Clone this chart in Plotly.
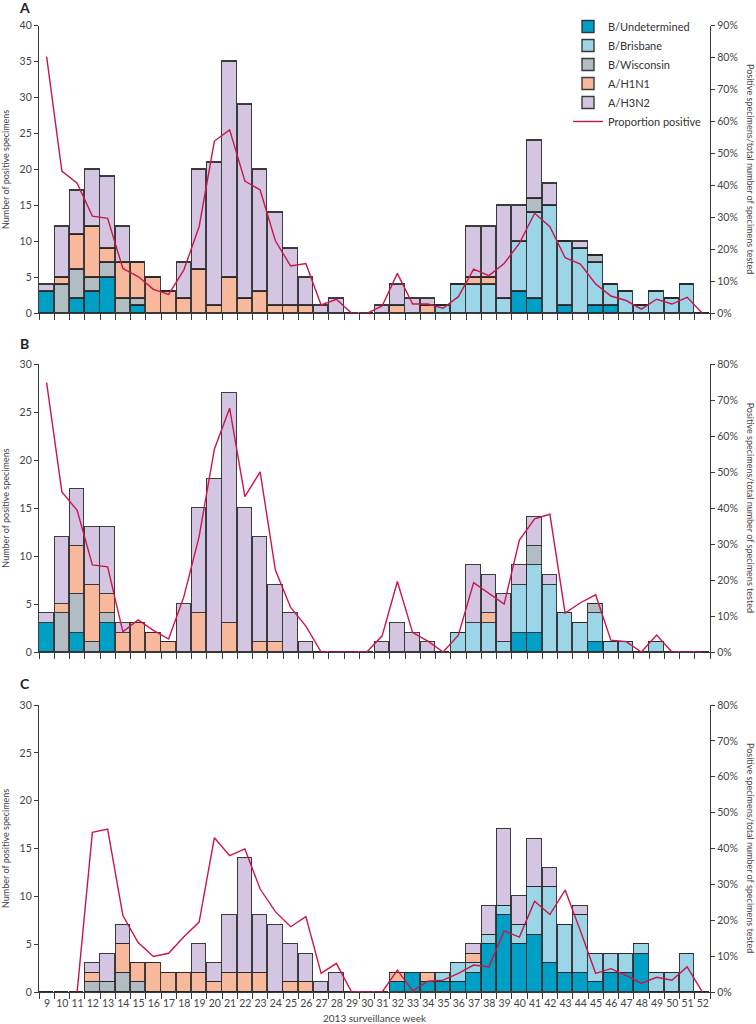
import plotly.graph_objects as go

# ---------------- data ----------------
weeks = list(range(9, 53))
series_names = ["B/Undetermined", "B/Brisbane", "B/Wisconsin", "A/H1N1", "A/H3N2"]

def wk(d):
    """build a 44-length list (weeks 9..52) from {week: value}"""
    return [d.get(w, 0) for w in weeks]

# Panel A
A_undet = wk({9: 3, 11: 2, 12: 3, 13: 5, 15: 1, 40: 3, 41: 2, 43: 1, 45: 1, 46: 1})
A_bris = wk({35: 1, 36: 4, 37: 4, 38: 4, 39: 2, 40: 7, 41: 12, 42: 15, 43: 9, 44: 9, 45: 6,
             46: 3, 47: 3, 48: 1, 49: 3, 50: 2, 51: 4})
A_wisc = wk({10: 4, 11: 4, 12: 2, 13: 2, 14: 2, 15: 1, 41: 2, 45: 1})
A_h1n1 = wk({10: 1, 11: 5, 12: 7, 13: 2, 14: 5, 15: 5, 16: 5, 17: 3, 18: 2, 19: 6, 20: 1, 21: 5,
             22: 2, 23: 3, 24: 1, 25: 1, 26: 1, 32: 1, 34: 1, 37: 1, 38: 1})
A_h3n2 = wk({9: 1, 10: 7, 11: 6, 12: 8, 13: 10, 14: 5, 18: 5, 19: 14, 20: 20, 21: 30, 22: 27,
             23: 17, 24: 13, 25: 8, 26: 4, 27: 1, 28: 2, 31: 1, 32: 3, 33: 2, 34: 1, 37: 7,
             38: 7, 39: 13, 40: 5, 41: 8, 42: 3, 44: 1})
A_prop = [80.3, 44.5, 40.7, 30.4, 29.7, 14.0, 11.5, 7.5, 5.9, 13.6,
          27.1, 53.9, 57.4, 41.4, 38.6, 22.7, 14.8, 15.6, 2.6, 4.4,
          0, 0, 2.3, 12.5, 2.9, 2.9, 1.6, 5.2, 13.8, 11.8,
          15.6, 21.9, 31.3, 27.1, 17.4, 15.4, 9.2, 5.4, 4.0, 1.3,
          4.4, 2.9, 5.0, 0]

# Panel B
B_undet = wk({9: 3, 11: 2, 13: 3, 40: 2, 41: 2, 45: 1})
B_bris = wk({36: 2, 37: 3, 38: 3, 39: 1, 40: 5, 41: 7, 42: 7, 43: 4, 44: 3, 45: 3, 46: 1,
             47: 1, 49: 1})
B_wisc = wk({10: 4, 11: 4, 12: 1, 13: 1, 41: 2, 45: 1})
B_h1n1 = wk({10: 1, 11: 5, 12: 6, 13: 2, 14: 2, 15: 3, 16: 2, 17: 1, 19: 4, 21: 3, 23: 1,
             24: 1, 38: 1})
B_h3n2 = wk({9: 1, 10: 7, 11: 6, 12: 6, 13: 7, 14: 1, 18: 5, 19: 11, 20: 18, 21: 24, 22: 15,
             23: 11, 24: 6, 25: 4, 26: 1, 31: 1, 32: 3, 33: 2, 34: 1, 37: 6, 38: 4, 39: 5,
             40: 2, 41: 3, 42: 1})
B_prop = [74.9, 44.5, 39.4, 24.2, 23.7, 5.6, 8.9, 6.0, 3.6, 15.4,
          32.1, 56.4, 67.8, 43.2, 50.1, 22.8, 12.4, 7.2, 0, 0,
          0, 0, 4.5, 19.6, 5.4, 3.0, 0, 4.7, 19.3, 16.3,
          13.3, 31.1, 37.0, 38.3, 10.8, 13.7, 15.9, 3.3, 2.9, 0,
          4.7, 0, 0, 0]

# Panel C
C_undet = wk({32: 1, 33: 2, 34: 1, 35: 1, 36: 1, 37: 2, 38: 5, 39: 8, 40: 5, 41: 6, 42: 3,
              43: 2, 44: 2, 45: 1, 46: 2, 47: 2, 48: 4})
C_bris = wk({35: 1, 36: 2, 37: 1, 38: 1, 39: 1, 40: 2, 41: 5, 42: 8, 43: 5, 44: 6, 45: 3,
             46: 2, 47: 2, 48: 1, 49: 2, 50: 2, 51: 4})
C_wisc = wk({12: 1, 13: 1, 14: 2, 15: 1})
C_h1n1 = wk({12: 1, 14: 3, 15: 2, 16: 3, 17: 2, 18: 2, 19: 2, 20: 1, 21: 2, 22: 2, 23: 2,
             25: 1, 26: 1, 32: 1, 34: 1, 37: 1})
C_h3n2 = wk({12: 1, 13: 3, 14: 2, 19: 3, 20: 2, 21: 6, 22: 12, 23: 6, 24: 7, 25: 4, 26: 3,
             27: 1, 28: 2, 37: 1, 38: 3, 39: 8, 40: 3, 41: 5, 42: 2, 44: 1})
C_prop = [None, None, 0, 44.5, 45.4, 21.3, 13.8, 9.9, 10.8, 15.4,
          19.5, 43.0, 38.0, 39.9, 28.7, 22.4, 18.2, 21.0, 5.2, 8.0,
          0, 0, 0, 6.1, 0.3, 3.0, 3.3, 5.2, 7.5, 7.0,
          17.0, 15.3, 25.3, 21.6, 28.4, 17.1, 5.2, 6.5, 4.6, 2.4,
          4.1, 3.3, 7.0, 0]

panels = [
    dict(letter="A", bars=[A_undet, A_bris, A_wisc, A_h1n1, A_h3n2], prop=A_prop,
         ymax=40, pmax=90, top=25.7, bottom=313.3, letter_y=7),
    dict(letter="B", bars=[B_undet, B_bris, B_wisc, B_h1n1, B_h3n2], prop=B_prop,
         ymax=30, pmax=80, top=364.3, bottom=652.0, letter_y=343.5),
    dict(letter="C", bars=[C_undet, C_bris, C_wisc, C_h1n1, C_h3n2], prop=C_prop,
         ymax=30, pmax=80, top=705.0, bottom=992.0, letter_y=683.5),
]

# ---------------- style ----------------
W, H = 756, 1024
ML, MR = 39, 46
PW = W - ML - MR
colors = ["#00A0C6", "#9DD5E8", "#B1BCC3", "#F8B89C", "#D4C6E2"]
line_color = "#C8174A"
edge = "rgba(40,40,40,0.9)"
axis_color = "#3a3a3a"
txt_color = "#444444"
FONT = "Lato, 'Open Sans', sans-serif"

fig = go.Figure()
layout = {}
annotations = []

edges = [w - 0.5 for w in weeks] + [weeks[-1] + 0.5]
edge_text = [str(w) for w in weeks] + [""]

for i, p in enumerate(panels):
    xa = "x" if i == 0 else f"x{i + 1}"
    yl = "y" if i == 0 else f"y{2 * i + 1}"
    yr = f"y{2 * i + 2}"
    for name, vals, col in zip(series_names, p["bars"], colors):
        fig.add_trace(go.Bar(
            x=weeks, y=vals, name=name, xaxis=xa, yaxis=yl, width=0.94,
            marker=dict(color=col, line=dict(color=edge, width=1.4)),
            showlegend=(i == 0), legendgroup=name, hoverinfo="skip"))
    fig.add_trace(go.Scatter(
        x=weeks, y=p["prop"], name="Proportion positive", xaxis=xa, yaxis=yr,
        mode="lines", line=dict(color=line_color, width=1.4),
        showlegend=(i == 0), legendgroup="prop", connectgaps=False, hoverinfo="skip"))

    dom = [1 - p["bottom"] / H, 1 - p["top"] / H]
    xkey = "xaxis" if i == 0 else f"xaxis{i + 1}"
    ylkey = "yaxis" if i == 0 else f"yaxis{2 * i + 1}"
    yrkey = f"yaxis{2 * i + 2}"
    last = (i == 2)
    xdef = dict(domain=[0, 1], anchor=yl, range=[8.5, 52.5], showgrid=False,
                zeroline=False, showline=True, linecolor=axis_color, linewidth=1.3,
                ticks="outside", ticklen=6, tickwidth=1.2, tickcolor=axis_color,
                tickmode="array", tickvals=edges, ticktext=edge_text,
                showticklabels=last,
                tickfont=dict(family=FONT, size=10.5, color=txt_color))
    if last:
        xdef["ticklabelshift"] = 8
        xdef["ticklabelstandoff"] = -5
    layout[xkey] = xdef
    layout[ylkey] = dict(domain=dom, anchor=xa, range=[0, p["ymax"]], showgrid=False,
                         zeroline=False, showline=True, linecolor=axis_color,
                         linewidth=1.3, ticks="outside", ticklen=4, tickwidth=1.2,
                         tickcolor=axis_color, tickmode="array",
                         tickvals=list(range(0, p["ymax"] + 1, 5)),
                         tickfont=dict(family=FONT, size=10.5, color=txt_color))
    pticks = list(range(0, p["pmax"] + 1, 10))
    layout[yrkey] = dict(overlaying=yl, side="right", anchor=xa, range=[0, p["pmax"]],
                         showgrid=False, zeroline=False, showline=True,
                         linecolor=axis_color, linewidth=1.3, ticks="outside",
                         ticklen=4, tickwidth=1.2, tickcolor=axis_color,
                         tickmode="array", tickvals=pticks,
                         ticktext=[f"{v}%" for v in pticks],
                         tickfont=dict(family=FONT, size=10.5, color=txt_color))

    mid = 1 - (p["top"] + p["bottom"]) / 2 / H
    annotations.append(dict(text=f"<b>{p['letter']}</b>", xref="paper", yref="paper",
                            x=(24.5 - ML) / PW, y=1 - p["letter_y"] / H,
                            xanchor="center", yanchor="middle", showarrow=False,
                            font=dict(family=FONT, size=14, color="#222")))
    annotations.append(dict(text="Number of positive specimens", xref="paper", yref="paper",
                            x=(5.5 - ML) / PW, y=mid, textangle=-90,
                            xanchor="center", yanchor="middle", showarrow=False,
                            font=dict(family=FONT, size=9, color=txt_color)))
    annotations.append(dict(text="Positive specimens/total number of specimens tested",
                            xref="paper", yref="paper",
                            x=(750.5 - ML) / PW, y=mid, textangle=90,
                            xanchor="center", yanchor="middle", showarrow=False,
                            font=dict(family=FONT, size=9, color=txt_color)))

annotations.append(dict(text="2013 surveillance week", xref="paper", yref="paper",
                        x=0.5, y=1 - 1018 / H, xanchor="center", yanchor="middle",
                        showarrow=False, font=dict(family=FONT, size=10, color=txt_color)))

fig.update_layout(
    **layout,
    width=W, height=H,
    margin=dict(l=ML, r=MR, t=0, b=0, autoexpand=False),
    barmode="stack", bargap=0,
    plot_bgcolor="white", paper_bgcolor="white",
    font=dict(family=FONT, color=txt_color),
    annotations=annotations,
    legend=dict(x=(568 - ML) / PW, y=1 - 12 / H, xanchor="left", yanchor="top",
                traceorder="normal", bgcolor="rgba(0,0,0,0)",
                font=dict(family=FONT, size=11, color="#333"), itemwidth=30,
                tracegroupgap=0),
)

fig.write_html("out.html",
               config={"displayModeBar": False},
               post_script="document.body.style.margin='0px';"
                           "document.body.style.overflow='hidden';")
